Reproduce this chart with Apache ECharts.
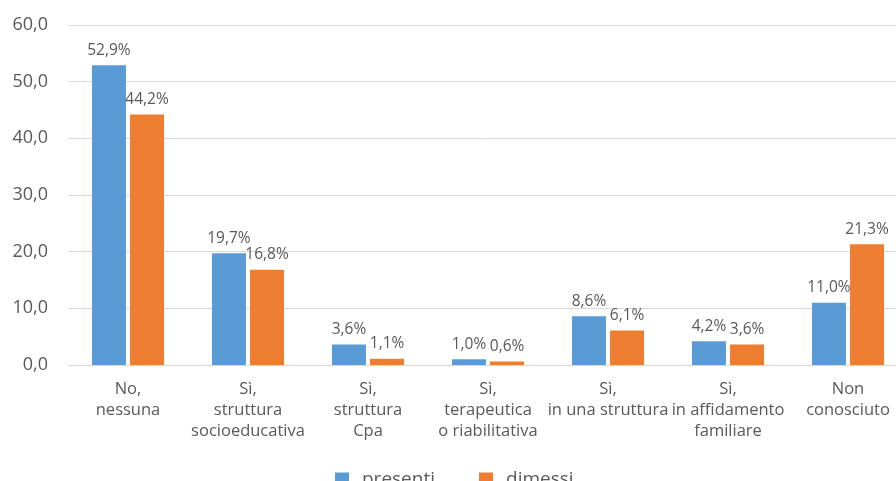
<!DOCTYPE html>
<html>
<head>
<meta charset="utf-8">
<script src="https://cdn.jsdelivr.net/npm/echarts@6/dist/echarts.min.js"></script>
<style>
  html, body { margin: 0; padding: 0; background: #fff; }
  #chart { width: 896px; height: 481px; }
</style>
</head>
<body>
<div id="chart"></div>
<script>
const categories = [
  "No,\nnessuna",
  "Sì,\nstruttura\nsocioeducativa",
  "Sì,\nstruttura\nCpa",
  "Sì,\nterapeutica\no riabilitativa",
  "Sì,\nin una struttura",
  "Sì,\nin affidamento\nfamiliare",
  "Non\nconosciuto"
];
const presenti = [52.9, 19.7, 3.6, 1.0, 8.6, 4.2, 11.0];
const dimessi = [44.2, 16.8, 1.1, 0.6, 6.1, 3.6, 21.3];

const fmt = v => v.toFixed(1).replace(".", ",");

const chart = echarts.init(document.getElementById("chart"));

const labelStyle = {
  show: true,
  position: "top",
  distance: 7,
  color: "#595959",
  fontFamily: "Open Sans",
  fontSize: 15.5,
  formatter: p => fmt(p.value) + "%"
};

chart.setOption({
  animation: false,
  textStyle: { fontFamily: "Open Sans" },
  // the last category runs past the right edge, as in the original
  grid: { left: 68, right: -12, top: 25, bottom: 116, outerBoundsMode: "none", containLabel: false },
  legend: {
    data: ["presenti", "dimessi"],
    left: 330,
    top: 465,
    itemWidth: 14,
    itemHeight: 14,
    itemGap: 44,
    icon: "rect",
    textStyle: { color: "#595959", fontSize: 19, fontFamily: "Open Sans", padding: [0, 0, 0, 8] }
  },
  xAxis: {
    type: "category",
    data: categories,
    axisLine: { lineStyle: { color: "#d9d9d9", width: 1 } },
    axisTick: { show: false },
    axisLabel: {
      interval: 0,
      color: "#595959",
      fontSize: 16.5,
      lineHeight: 21,
      margin: 14
    }
  },
  yAxis: {
    type: "value",
    min: 0,
    max: 60,
    interval: 10,
    axisLine: { show: false },
    axisTick: { show: false },
    splitLine: { lineStyle: { color: "#d9d9d9", width: 1 } },
    axisLabel: {
      color: "#595959",
      fontSize: 18,
      margin: 20,
      formatter: v => fmt(v)
    }
  },
  series: [
    {
      name: "presenti",
      type: "bar",
      data: presenti,
      barWidth: 34,
      barGap: "12%",
      itemStyle: { color: "#5b9bd5" },
      label: labelStyle
    },
    {
      name: "dimessi",
      type: "bar",
      data: dimessi,
      barWidth: 34,
      itemStyle: { color: "#ed7d31" },
      label: labelStyle
    }
  ]
});
</script>
</body>
</html>
